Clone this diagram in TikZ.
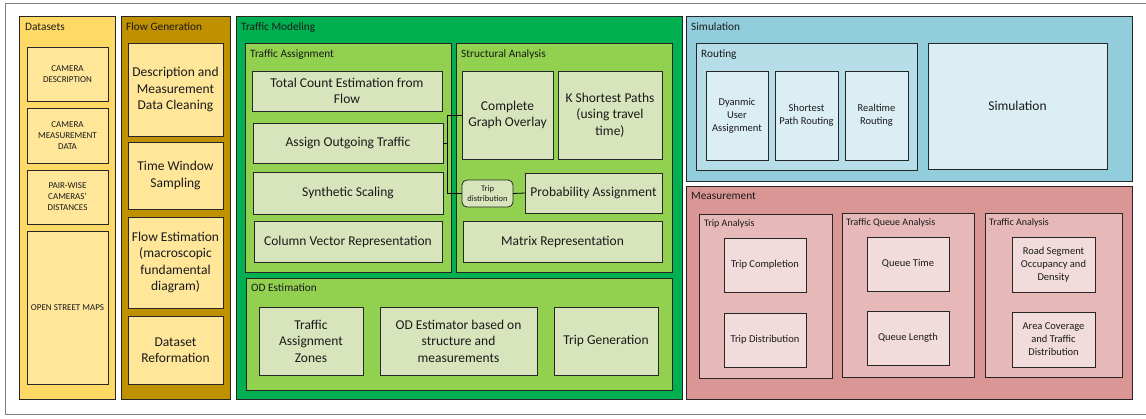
\documentclass[tikz,border=0pt]{standalone}
\usepackage{fontspec}
\setmainfont{Carlito}
\definecolor{dsPanel}{HTML}{FFD966}
\definecolor{ylBox}{HTML}{FFE699}
\definecolor{fgPanel}{HTML}{BF9000}
\definecolor{tmPanel}{HTML}{00B050}
\definecolor{tmSub}{HTML}{92D050}
\definecolor{tmBox}{HTML}{D8E4BC}
\definecolor{smPanel}{HTML}{92CDDC}
\definecolor{smSub}{HTML}{B7DEE8}
\definecolor{smBox}{HTML}{DAEEF3}
\definecolor{msPanel}{HTML}{DA9694}
\definecolor{msSub}{HTML}{E6B8B7}
\definecolor{msBox}{HTML}{F2DCDB}
\definecolor{edge}{HTML}{262626}
\definecolor{txt}{HTML}{1A1A1A}
\definecolor{frame}{HTML}{7F7F7F}
\newcommand{\bx}[7]{\node[#6, minimum width={#4-#2}, minimum height={#5-#3}] (#1) at ({(#2+#4)/2},{(#3+#5)/2}) {#7};}
\newcommand{\plab}[5][]{\node[lab,#1] (#2) at (#3,#4) {#5};}
\tikzset{
  x=1pt, y=-1pt,
  base/.style={rectangle, draw=edge, line width=0.8pt, inner sep=0pt, outer sep=0pt, align=center, text=txt},
  panel/.style={base},
  bigtxt/.style={font=\fontsize{13.5}{16.5}\selectfont},
  midtxt/.style={font=\fontsize{10.5}{13}\selectfont},
  smltxt/.style={font=\fontsize{9}{11}\selectfont},
  lab/.style={anchor=base west, inner sep=0pt, text=txt, font=\fontsize{11.3}{13}\selectfont},
  slab/.style={font=\fontsize{10}{12}\selectfont},
  conn/.style={draw=black, line width=0.8pt},
}
\begin{document}
\begin{tikzpicture}
\useasboundingbox (0,0) rectangle (1146,418);
\fill[white] (0,0) rectangle (1146,418);
\begin{scope}
\clip (0,0) rectangle (1146,418);
\draw[frame, line width=1pt] (1160,3) -- (5,3) -- (5,414) -- (1160,414);
\end{scope}

% ---------- Datasets ----------
\bx{dsP}{19}{16}{115}{399}{panel, fill=dsPanel}{}
\plab{dsL}{25}{30}{Datasets}
\bx{camdesc}{27}{47}{108}{101}{base, fill=ylBox, smltxt}{CAMERA\\DESCRIPTION}
\bx{cammeas}{27}{108}{108}{163}{base, fill=ylBox, smltxt}{CAMERA\\MEASUREMENT\\DATA}
\bx{pairwise}{27}{170}{108}{224}{base, fill=ylBox, smltxt}{PAIR-WISE\\CAMERAS'\\DISTANCES}
\bx{osm}{27}{231}{108}{384}{base, fill=ylBox, smltxt}{OPEN STREET MAPS}

% ---------- Flow Generation ----------
\bx{fgP}{121}{16}{230}{399}{panel, fill=fgPanel}{}
\plab{fgL}{126}{30}{Flow Generation}
\bx{clean}{128}{43}{223}{136}{base, fill=ylBox, bigtxt}{Description and\\Measurement\\Data Cleaning}
\bx{twin}{128}{142}{223}{209}{base, fill=ylBox, bigtxt}{Time Window\\Sampling}
\bx{flowest}{128}{217}{223}{308}{base, fill=ylBox, bigtxt}{Flow Estimation\\(macroscopic\\fundamental\\diagram)}
\bx{reform}{128}{316}{223}{384}{base, fill=ylBox, bigtxt}{Dataset\\Reformation}

% ---------- Traffic Modeling ----------
\bx{tmP}{236}{16}{682}{399}{panel, fill=tmPanel}{}
\plab{tmL}{241}{30}{Traffic Modeling}
\bx{taP}{245}{43}{451}{272}{panel, fill=tmSub}{}
\plab{taL}{250}{57}{Traffic Assignment}
\bx{saP}{456}{43}{672}{272}{panel, fill=tmSub}{}
\plab{saL}{461}{57}{Structural Analysis}
\bx{odP}{246}{278}{672}{390}{panel, fill=tmSub}{}
\plab{odL}{251}{291}{OD Estimation}

\coordinate (j) at (447,143);
\bx{tc}{252}{71}{442}{111}{base, fill=tmBox, bigtxt}{Total Count Estimation from\\Flow}
\bx{ao}{253}{123}{443}{163}{base, fill=tmBox, bigtxt}{Assign Outgoing Traffic}
\bx{ss}{253}{172}{443}{214}{base, fill=tmBox, bigtxt}{Synthetic Scaling}
\bx{cv}{254}{221}{442}{262}{base, fill=tmBox, bigtxt}{Column Vector Representation}
\bx{cg}{462}{71}{553}{159}{base, fill=tmBox, bigtxt}{Complete\\Graph Overlay}
\bx{ks}{558}{71}{662}{159}{base, fill=tmBox, bigtxt}{K Shortest Paths\\(using travel\\time)}
\bx{pa}{525}{173}{662}{213}{base, fill=tmBox, bigtxt}{Probability Assignment}
\bx{mr}{463}{221}{662}{262}{base, fill=tmBox, bigtxt}{Matrix Representation}
\bx{td}{462}{180}{513}{207}{base, fill=tmBox, rounded corners=5pt, font=\fontsize{8.5}{10.5}\selectfont}{Trip\\distribution}
\draw[conn] (ao.east) -- (j) |- (cg.west);
\draw[conn] (j) |- (td.west);
\draw[conn] (td.east) -- (pa.west);

\bx{taz}{259}{307}{363}{375}{base, fill=tmBox, bigtxt}{Traffic\\Assignment\\Zones}
\bx{ode}{380}{307}{537}{375}{base, fill=tmBox, bigtxt}{OD Estimator based on\\structure and\\measurements}
\bx{tg}{554}{307}{658}{375}{base, fill=tmBox, bigtxt}{Trip Generation}

% ---------- Simulation ----------
\bx{smP}{686}{16}{1132}{181}{panel, fill=smPanel}{}
\plab{smL}{691}{30}{Simulation}
\bx{rtP}{696}{43}{917}{170}{panel, fill=smSub}{}
\plab{rtL}{701}{57}{Routing}
\bx{dua}{706}{71}{768}{160}{base, fill=smBox, midtxt}{Dyanmic\\User\\Assignment}
\bx{spr}{775}{71}{838}{160}{base, fill=smBox, midtxt}{Shortest\\Path Routing}
\bx{rtr}{845}{71}{908}{160}{base, fill=smBox, midtxt}{Realtime\\Routing}
\bx{sim}{928}{43}{1107}{169}{base, fill=smBox, bigtxt}{Simulation}

% ---------- Measurement ----------
\bx{msP}{686}{186}{1132}{399}{panel, fill=msPanel}{}
\plab{msL}{691}{199}{Measurement}
\bx{trP}{699}{214}{832}{378}{panel, fill=msSub}{}
\plab[slab]{trL}{704}{226}{Trip Analysis}
\bx{tqP}{842}{213}{974}{377}{panel, fill=msSub}{}
\plab[slab]{tqL}{846}{225}{Traffic Queue Analysis}
\bx{tfP}{985}{213}{1122}{377}{panel, fill=msSub}{}
\plab[slab]{tfL}{989}{225}{Traffic Analysis}
\bx{tcm}{724}{238}{806}{292}{base, fill=msBox, midtxt}{Trip Completion}
\bx{tdi}{724}{313}{806}{367}{base, fill=msBox, midtxt}{Trip Distribution}
\bx{qt}{867}{237}{949}{291}{base, fill=msBox, midtxt}{Queue Time}
\bx{ql}{867}{311}{949}{365}{base, fill=msBox, midtxt}{Queue Length}
\bx{rso}{1012}{237}{1095}{292}{base, fill=msBox, midtxt}{Road Segment\\Occupancy and\\Density}
\bx{acv}{1012}{312}{1095}{367}{base, fill=msBox, midtxt}{Area Coverage\\and Traffic\\Distribution}
\end{tikzpicture}
\end{document}
